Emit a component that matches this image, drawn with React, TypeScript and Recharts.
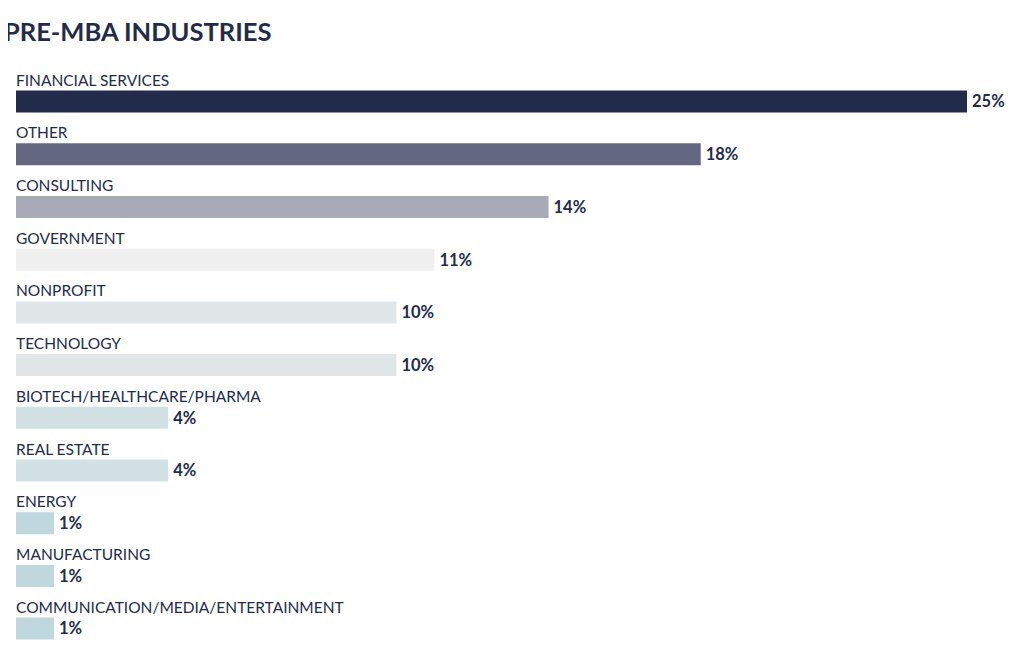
import { BarChart, Bar, XAxis, YAxis, Cell, LabelList } from 'recharts'

const industries = [
  'FINANCIAL SERVICES',
  'OTHER',
  'CONSULTING',
  'GOVERNMENT',
  'NONPROFIT',
  'TECHNOLOGY',
  'BIOTECH/HEALTHCARE/PHARMA',
  'REAL ESTATE',
  'ENERGY',
  'MANUFACTURING',
  'COMMUNICATION/MEDIA/ENTERTAINMENT',
]
const shares = [25, 18, 14, 11, 10, 10, 4, 4, 1, 1, 1]
const barColors = [
  '#232B4A',
  '#646780',
  '#A8ABB7',
  '#F0F0F0',
  '#E1E7E9',
  '#E1E7E9',
  '#D1E0E3',
  '#D1E0E3',
  '#BFD7DD',
  '#BFD7DD',
  '#BFD7DD',
]

const INK = '#232B4A'
const FONT = 'Lato, "Noto Sans", sans-serif'

const data = industries.map((name, i) => ({ name, value: shares[i] }))

// category name sits just above its bar
function NameLabel(props: any) {
  const { x, y, value } = props
  return (
    <text x={x} y={y - 5} fill={INK} fontSize={15.5} fontFamily={FONT}>
      {value}
    </text>
  )
}

export default function App() {
  return (
    <div style={{ position: 'relative', width: 1004, height: 634, fontFamily: FONT }}>
      {/* chart area pulled into the body margin; clipped so the page never scrolls */}
      <div
        style={{
          position: 'absolute',
          left: -8,
          top: 0,
          width: 1020,
          height: 634,
          overflow: 'hidden',
        }}
      >
        <BarChart
          width={1020}
          height={648}
          data={data}
          layout="vertical"
          margin={{ top: 67.6, right: 53, bottom: 0.7, left: 16 }}
        >
          <XAxis type="number" domain={[0, 25]} hide />
          <YAxis type="category" dataKey="name" hide />
          <Bar dataKey="value" barSize={22} isAnimationActive={false}>
            {data.map((d, i) => (
              <Cell key={d.name} fill={barColors[i]} />
            ))}
            <LabelList dataKey="name" content={<NameLabel />} />
            <LabelList
              dataKey="value"
              position="right"
              offset={5}
              formatter={(v: any) => `${v}%`}
              fill={INK}
              fontSize={16.5}
              fontWeight={700}
              fontFamily={FONT}
            />
          </Bar>
        </BarChart>
      </div>
      <div
        style={{
          position: 'absolute',
          left: -4,
          top: 8,
          fontSize: 25.5,
          fontWeight: 700,
          color: INK,
          whiteSpace: 'nowrap',
          lineHeight: 1.2,
        }}
      >
        PRE-MBA INDUSTRIES
      </div>
    </div>
  )
}
